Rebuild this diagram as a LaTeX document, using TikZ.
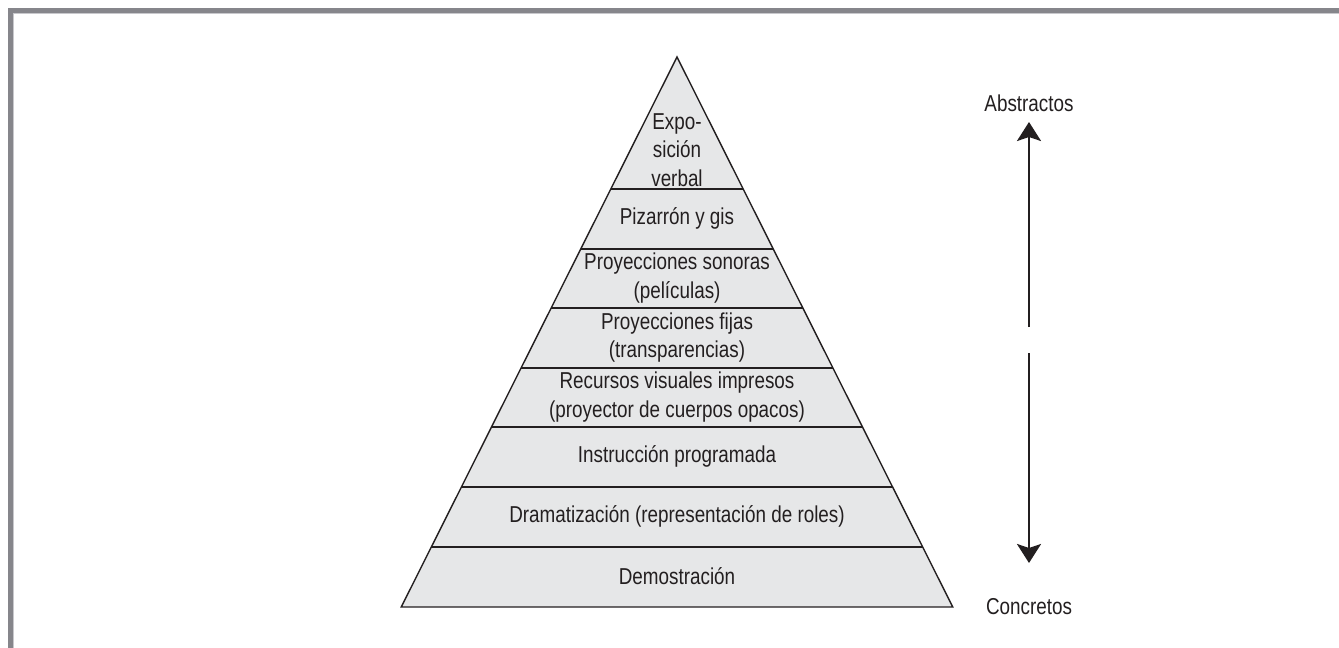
\documentclass[tikz,border=0pt]{standalone}
\usepackage{fontspec}
\setmainfont{Liberation Sans}[FakeStretch=0.82]
\usetikzlibrary{arrows.meta}
\definecolor{framegray}{RGB}{134,134,139}
\definecolor{framelight}{RGB}{200,200,204}
\definecolor{ink}{RGB}{35,31,32}
\definecolor{pyrfill}{RGB}{230,231,232}
\tikzset{
  lbl/.style={align=center, text=ink, inner sep=0pt, font=\fontsize{23}{28.5}\selectfont},
  pyrline/.style={draw=ink, line width=1.4pt},
  bigarrow/.style={draw=ink, line width=2.6pt, -{Stealth[length=19pt, width=24pt, inset=4pt]}}
}
\begin{document}
\begin{tikzpicture}[x=1pt,y=-1pt]
\useasboundingbox (0,0) rectangle (1339,648);
% frame
\draw[line width=5.2pt, framegray, line join=miter] (10.6,648) -- (10.6,10.6) -- (1339,10.6);
\draw[line width=0.8pt, framelight] (13.6,648) -- (13.6,13.6) -- (1339,13.6);
% pyramid
\coordinate (apex) at (677,57);
\coordinate (bl) at (401.25,607);
\coordinate (br) at (952.75,607);
\fill[pyrfill] (apex) -- (br) -- (bl) -- cycle;
\begin{scope}
\clip (apex) -- (br) -- (bl) -- cycle;
\foreach \yy in {189,249,308,368,427,487,547}{
  \draw[pyrline] (380,\yy) -- (980,\yy);
}
\end{scope}
\draw[pyrline, line join=miter] (apex) -- (br) -- (bl) -- cycle;
% labels
\node[lbl] (n1) at (677,150) {Expo-\\sición\\verbal};
\node[lbl] (n2) at (677,218.5) {Pizarrón y gis};
\node[lbl] (n3) at (677,278) {Proyecciones sonoras\\(películas)};
\node[lbl] (n4) at (677,337.5) {Proyecciones fijas\\(transparencias)};
\node[lbl] (n5) at (677,397) {Recursos visuales impresos\\(proyector de cuerpos opacos)};
\node[lbl] (n6) at (677,456.5) {Instrucción programada};
\node[lbl] (n7) at (677,516.5) {Dramatización (representación de roles)};
\node[lbl] (n8) at (677,576.5) {Demostración};
% arrows
\node[lbl] (abs) at (1029,103) {Abstractos};
\node[lbl] (con) at (1029,607) {Concretos};
\coordinate (upstart) at (1029,327);
\coordinate (uptip) at (1029,122);
\coordinate (dnstart) at (1029,353);
\coordinate (dntip) at (1029,563);
\draw[bigarrow] (upstart) -- (uptip);
\draw[bigarrow] (dnstart) -- (dntip);
\end{tikzpicture}
\end{document}
